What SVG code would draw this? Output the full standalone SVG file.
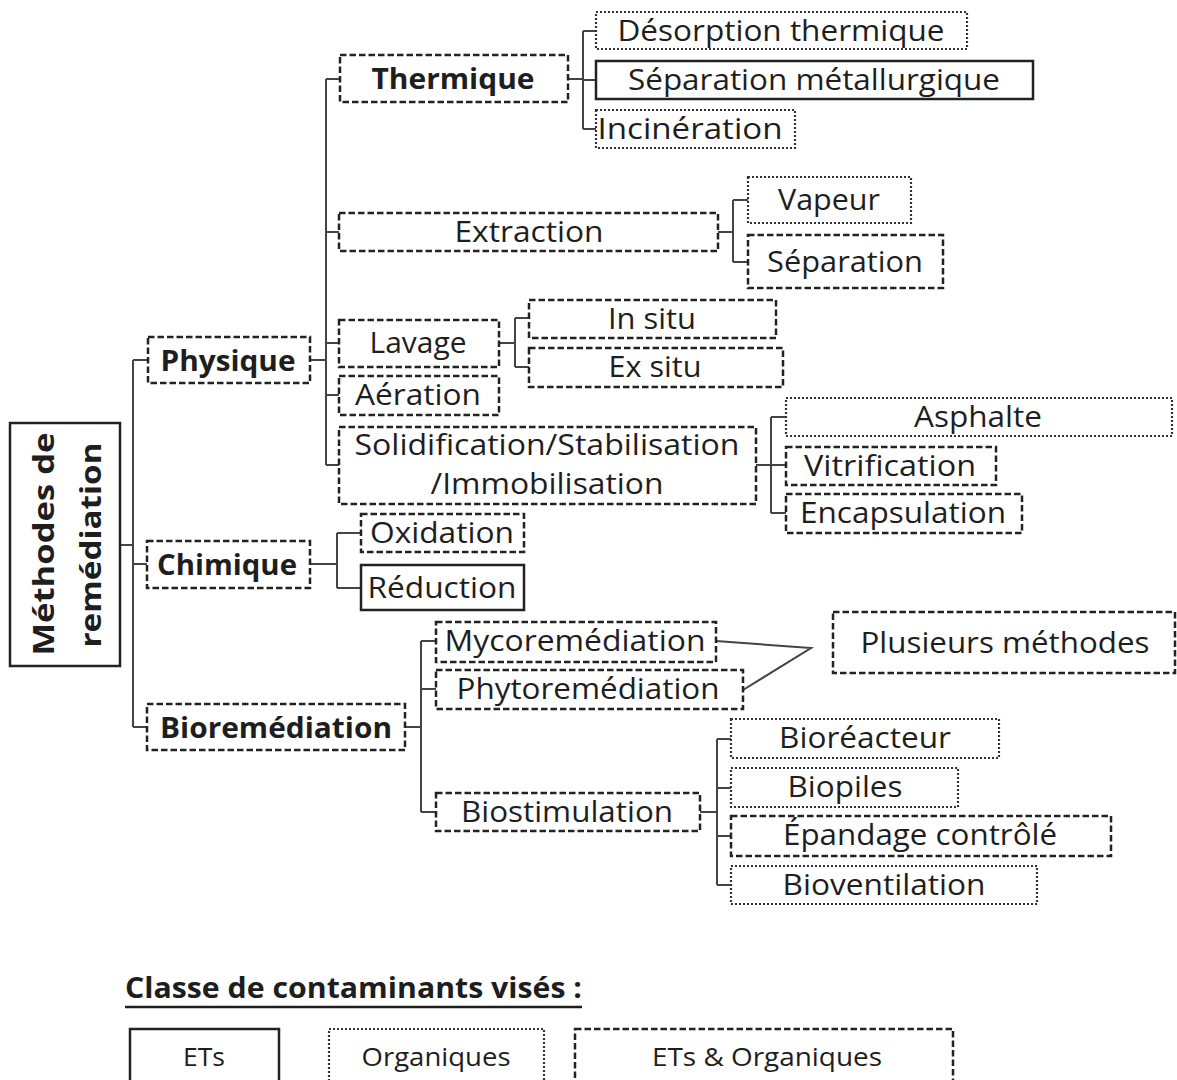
<svg xmlns="http://www.w3.org/2000/svg" width="1177" height="1080" viewBox="0 0 1177 1080">
<style>
.dash{fill:#fff;stroke:#222;stroke-width:2.5;stroke-dasharray:6.5 3}
.dot{fill:#fff;stroke:#333;stroke-width:2.2;stroke-dasharray:2 2}
.solid{fill:#fff;stroke:#222;stroke-width:2.5}
.t{font-family:"Open Sans","Noto Sans",sans-serif;font-size:29px;fill:#1e1e1e;text-anchor:middle}
.b{font-weight:bold}
.lg{font-size:25px}
.c{fill:none;stroke:#444;stroke-width:2}
</style>
<rect width="1177" height="1080" fill="#fff"/>
<g id="connectors" class="c">
<path d="M120 545H133M133 360V727M133 360H148M133 564H147M133 727H147"/>
<path d="M310 360H326M326 79V465M326 79H340M326 232H339M326 343H339M326 395H339M326 465H339"/>
<path d="M568 79H583M583 31V129M583 31H596M583 80H596M583 129H596"/>
<path d="M718 232H733M733 200V262M733 200H748M733 262H748"/>
<path d="M499 343H515M515 318V367M515 318H529M515 367H529"/>
<path d="M756 465H771M771 417V513M771 417H786M771 465H786M771 513H786"/>
<path d="M310 564H337M337 533V588M337 533H361M337 588H361"/>
<path d="M405 727H421M421 641V812M421 641H436M421 689H436M421 812H436"/>
<path d="M700 812H717M717 739V885M717 739H731M717 788H731M717 836H731M717 885H731"/>
<path d="M716 641L811 648L743 690"/>
</g>
<g id="methodes"><rect class="solid" x="10" y="423" width="110" height="243"/>
<text class="t b" font-size="41" textLength="223" lengthAdjust="spacingAndGlyphs" transform="translate(54,544) rotate(-90)">Méthodes de</text>
<text class="t b" font-size="41" textLength="205" lengthAdjust="spacingAndGlyphs" transform="translate(101,545) rotate(-90)">remédiation</text></g>
<g id="physique"><rect class="dash" x="148" y="337" width="162" height="46"/><text class="t b" x="228" y="371" textLength="135" lengthAdjust="spacingAndGlyphs">Physique</text></g>
<g id="thermique"><rect class="dash" x="340" y="55" width="228" height="47"/><text class="t b" x="453" y="89" textLength="163" lengthAdjust="spacingAndGlyphs">Thermique</text></g>
<g id="desorption"><rect class="dot" x="596" y="12" width="371" height="37"/><text class="t" x="781" y="41" textLength="327" lengthAdjust="spacingAndGlyphs">Désorption thermique</text></g>
<g id="separation-metal"><rect class="solid" x="596" y="61" width="437" height="38"/><text class="t" x="814" y="90" textLength="372" lengthAdjust="spacingAndGlyphs">Séparation métallurgique</text></g>
<g id="incineration"><rect class="dot" x="596" y="110" width="199" height="38"/><text class="t" x="690" y="139" textLength="185" lengthAdjust="spacingAndGlyphs">Incinération</text></g>
<g id="extraction"><rect class="dash" x="339" y="213" width="379" height="38"/><text class="t" x="529" y="242" textLength="149" lengthAdjust="spacingAndGlyphs">Extraction</text></g>
<g id="vapeur"><rect class="dot" x="748" y="177" width="163" height="46"/><text class="t" x="829" y="210" textLength="102" lengthAdjust="spacingAndGlyphs">Vapeur</text></g>
<g id="separation"><rect class="dash" x="748" y="235" width="195" height="53"/><text class="t" x="845" y="272" textLength="156" lengthAdjust="spacingAndGlyphs">Séparation</text></g>
<g id="lavage"><rect class="dash" x="339" y="320" width="160" height="47"/><text class="t" x="418" y="353" textLength="97" lengthAdjust="spacingAndGlyphs">Lavage</text></g>
<g id="insitu"><rect class="dash" x="529" y="300" width="247" height="38"/><text class="t" x="652" y="329" textLength="88" lengthAdjust="spacingAndGlyphs">In situ</text></g>
<g id="exsitu"><rect class="dash" x="529" y="348" width="254" height="39"/><text class="t" x="655" y="377" textLength="93" lengthAdjust="spacingAndGlyphs">Ex situ</text></g>
<g id="aeration"><rect class="dash" x="339" y="376" width="160" height="39"/><text class="t" x="418" y="405" textLength="126" lengthAdjust="spacingAndGlyphs">Aération</text></g>
<g id="solidification"><rect class="dash" x="339" y="427" width="417" height="77"/><text class="t" x="547" y="455" textLength="385" lengthAdjust="spacingAndGlyphs">Solidification/Stabilisation</text><text class="t" x="547" y="494" textLength="233" lengthAdjust="spacingAndGlyphs">/Immobilisation</text></g>
<g id="asphalte"><rect class="dot" x="786" y="398" width="386" height="38"/><text class="t" x="978" y="427" textLength="128" lengthAdjust="spacingAndGlyphs">Asphalte</text></g>
<g id="vitrification"><rect class="dash" x="786" y="447" width="210" height="38"/><text class="t" x="890" y="476" textLength="172" lengthAdjust="spacingAndGlyphs">Vitrification</text></g>
<g id="encapsulation"><rect class="dash" x="786" y="494" width="236" height="39"/><text class="t" x="903" y="523" textLength="206" lengthAdjust="spacingAndGlyphs">Encapsulation</text></g>
<g id="chimique"><rect class="dash" x="147" y="541" width="163" height="47"/><text class="t b" x="227" y="575" textLength="140" lengthAdjust="spacingAndGlyphs">Chimique</text></g>
<g id="oxidation"><rect class="dash" x="361" y="514" width="163" height="38"/><text class="t" x="442" y="543" textLength="144" lengthAdjust="spacingAndGlyphs">Oxidation</text></g>
<g id="reduction"><rect class="solid" x="361" y="565" width="163" height="45"/><text class="t" x="442" y="598" textLength="149" lengthAdjust="spacingAndGlyphs">Réduction</text></g>
<g id="bioremediation"><rect class="dash" x="147" y="704" width="258" height="46"/><text class="t b" x="276" y="738" textLength="232" lengthAdjust="spacingAndGlyphs">Bioremédiation</text></g>
<g id="mycoremediation"><rect class="dash" x="436" y="622" width="280" height="40"/><text class="t" x="575" y="651" textLength="261" lengthAdjust="spacingAndGlyphs">Mycoremédiation</text></g>
<g id="phytoremediation"><rect class="dash" x="436" y="670" width="307" height="39"/><text class="t" x="588" y="699" textLength="263" lengthAdjust="spacingAndGlyphs">Phytoremédiation</text></g>
<g id="plusieurs"><rect class="dash" x="833" y="612" width="342" height="61"/><text class="t" x="1005" y="653" textLength="289" lengthAdjust="spacingAndGlyphs">Plusieurs méthodes</text></g>
<g id="biostimulation"><rect class="dash" x="436" y="793" width="264" height="38"/><text class="t" x="567" y="822" textLength="212" lengthAdjust="spacingAndGlyphs">Biostimulation</text></g>
<g id="bioreacteur"><rect class="dot" x="731" y="719" width="268" height="39"/><text class="t" x="865" y="748" textLength="172" lengthAdjust="spacingAndGlyphs">Bioréacteur</text></g>
<g id="biopiles"><rect class="dot" x="731" y="768" width="227" height="39"/><text class="t" x="845" y="797" textLength="115" lengthAdjust="spacingAndGlyphs">Biopiles</text></g>
<g id="epandage"><rect class="dash" x="731" y="816" width="380" height="40"/><text class="t" x="920" y="845" textLength="274" lengthAdjust="spacingAndGlyphs">Épandage contrôlé</text></g>
<g id="bioventilation"><rect class="dot" x="731" y="866" width="306" height="38"/><text class="t" x="884" y="895" textLength="203" lengthAdjust="spacingAndGlyphs">Bioventilation</text></g>
<g id="legend">
<text class="t b" font-size="27" x="125" y="998" style="text-anchor:start" textLength="457" lengthAdjust="spacingAndGlyphs">Classe de contaminants visés :</text>
<line x1="125" y1="1007" x2="582" y2="1007" stroke="#1e1e1e" stroke-width="2.5"/>
<rect class="solid" x="130" y="1029" width="149" height="55"/><text class="t lg" x="204" y="1066" textLength="42" lengthAdjust="spacingAndGlyphs">ETs</text>
<rect class="dot" x="329" y="1029" width="215" height="55"/><text class="t lg" x="436" y="1066" textLength="149" lengthAdjust="spacingAndGlyphs">Organiques</text>
<rect class="dash" x="575" y="1029" width="378" height="55"/><text class="t lg" x="767" y="1066" textLength="230" lengthAdjust="spacingAndGlyphs">ETs &amp; Organiques</text>
</g>
</svg>
